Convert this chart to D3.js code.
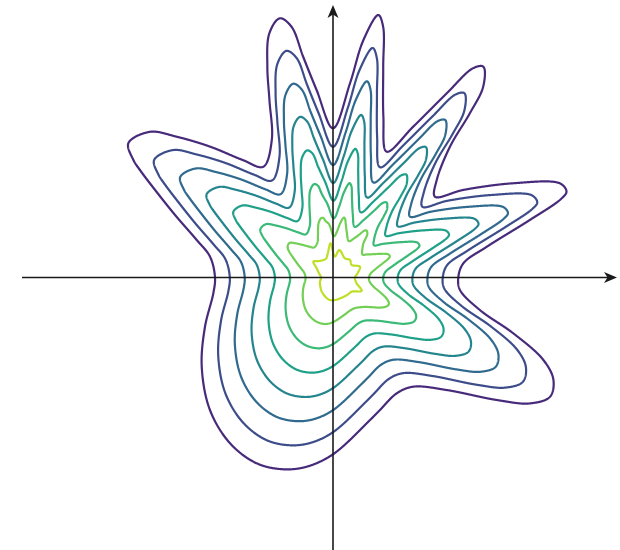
<!DOCTYPE html>
<html>
<head>
<meta charset="utf-8">
<script src="https://cdn.jsdelivr.net/npm/d3@7"></script>
<style>
  html, body { margin: 0; padding: 0; background: #fff; }
  svg { display: block; }
</style>
</head>
<body>
<svg id="chart" width="620" height="550"></svg>
<script>
// ---- data ----
// contour levels: 0 = outermost, 7 = innermost
const levels = [0, 1, 2, 3, 4, 5, 6, 7];

// outermost contour traced in polar form (angle in degrees, radius in axis units)
const outerAngles = [0, 6.2, 11.3, 16.3, 19.0, 20.2, 22.5, 27.6, 33.9, 38.4, 43.2, 48.2, 50.2, 51.8, 54.5, 56.2, 58.3, 62, 66.9, 72.6, 76.6, 78.7, 80.2, 82.7, 85, 90, 95, 97.7, 99.4, 101.6, 104.6, 107.3, 109.7, 114, 122.2, 127.5, 133.2, 138, 141.5, 146.7, 149.5, 150.9, 153.8, 158.4, 164.6, 170.4, 180, 187.5, 201, 214.2, 227.1, 238.2, 247.7, 255.5, 262.1, 270, 284.6, 289.5, 298.8, 306.3, 315.3, 323.2, 327.4, 331.2, 335.1, 338.6, 342.8, 347.5, 354.4];
const outerRadii = [12.53, 13.11, 15.68, 20.52, 24.11, 24.88, 24.58, 20.34, 15.7, 13.01, 14.23, 17.55, 21.38, 24.29, 25.89, 25.19, 21.65, 17.08, 13.68, 16.85, 21.67, 25.58, 26.64, 23.94, 19.49, 14.92, 18.82, 22.28, 25.42, 26.46, 25.24, 22.08, 18.86, 15.05, 13.09, 14.8, 17.95, 21.04, 23.4, 24.48, 23.17, 22.09, 19.83, 16.99, 14.14, 12.47, 11.8, 12.07, 13.71, 15.87, 18.08, 19.52, 20.09, 19.81, 19.1, 17.68, 14.72, 14.06, 13.22, 13.55, 16.0, 20.45, 23.37, 24.76, 24.3, 22.59, 18.87, 15.05, 12.76];

// innermost contour traced in polar form
const innerAngles = [0, 10, 22, 34, 46, 58, 77, 85, 94, 103, 110, 120, 132, 141, 150, 159, 180, 198, 215, 232, 250, 262, 275, 295, 310, 323, 335, 347];
const innerRadii = [2.2, 2.5, 2.9, 2.25, 2.44, 2.26, 2.82, 2.1, 3.43, 2.4, 2.02, 2.0, 2.2, 2.53, 1.9, 1.58, 1.2, 1.37, 1.55, 1.81, 2.1, 2.27, 2.26, 2.2, 2.25, 2.35, 3.16, 2.4];

// axis extents (axis units)
const xDomain = [-31.1, 28.4];
const yDomain = [-27.05, 27.25];

(function () {
  const W = 620, H = 550;
  const svg = d3.select("#chart");
  const x = d3.scaleLinear().domain(xDomain).range([22, 617]);
  const y = d3.scaleLinear().domain(yDomain).range([548, 5]);
  const colorT = d3.scaleLinear().domain([levels[0], levels[levels.length - 1]]).range([0.12, 0.9]);
  const color = v => d3.interpolateViridis(colorT(v));

  // smooth closed curve (centripetal Catmull-Rom) through a polar trace,
  // returned as a radius-by-angle lookup
  function polarProfile(angles, radii) {
    const n = angles.length;
    const P = angles.map((a, i) => {
      const t = a * Math.PI / 180;
      return [radii[i] * Math.cos(t), radii[i] * Math.sin(t)];
    });
    const dense = [];
    for (let i = 0; i < n; i++) {
      const p0 = P[(i - 1 + n) % n], p1 = P[i], p2 = P[(i + 1) % n], p3 = P[(i + 2) % n];
      const d = (a, b) => Math.pow(Math.hypot(b[0] - a[0], b[1] - a[1]), 0.5) || 1e-6;
      const t0 = 0, t1 = t0 + d(p0, p1), t2 = t1 + d(p1, p2), t3 = t2 + d(p2, p3);
      const S = 60;
      for (let s = 0; s < S; s++) {
        const t = t1 + (t2 - t1) * s / S;
        const L = (pa, pb, ta, tb) => [
          (tb - t) / (tb - ta) * pa[0] + (t - ta) / (tb - ta) * pb[0],
          (tb - t) / (tb - ta) * pa[1] + (t - ta) / (tb - ta) * pb[1]];
        const A1 = L(p0, p1, t0, t1), A2 = L(p1, p2, t1, t2), A3 = L(p2, p3, t2, t3);
        const B1 = L(A1, A2, t0, t2), B2 = L(A2, A3, t1, t3);
        const C = L(B1, B2, t1, t2);
        let th = Math.atan2(C[1], C[0]) * 180 / Math.PI;
        if (th < 0) th += 360;
        dense.push([th, Math.hypot(C[0], C[1])]);
      }
    }
    dense.sort((a, b) => a[0] - b[0]);
    const th = dense.map(d => d[0]), rr = dense.map(d => d[1]);
    const m = th.length;
    const N = 7200;
    const lut = new Float64Array(N + 1);
    for (let k = 0; k <= N; k++) {
      const a = (k / N) * 360;
      let j = d3.bisectRight(th, a) - 1;
      let aL, rL, aR, rR;
      if (j < 0) { aL = th[m - 1] - 360; rL = rr[m - 1]; aR = th[0]; rR = rr[0]; }
      else if (j >= m - 1) { aL = th[m - 1]; rL = rr[m - 1]; aR = th[0] + 360; rR = rr[0]; }
      else { aL = th[j]; rL = rr[j]; aR = th[j + 1]; rR = rr[j + 1]; }
      const f = aR > aL ? (a - aL) / (aR - aL) : 0;
      lut[k] = rL + (rR - rL) * f;
    }
    return a => {
      const u = a / 360 * N;
      const k = Math.floor(u), fr = u - k;
      return lut[k] * (1 - fr) + lut[Math.min(k + 1, N)] * fr;
    };
  }

  const outerR = polarProfile(outerAngles, outerRadii);
  const innerR = polarProfile(innerAngles, innerRadii);
  const nL = levels.length;          // 8 rings
  const topLevel = levels[nL - 1];   // 7
  const P = 2;                       // decay of inner irregularity towards the outside

  // ring index i (0 = innermost ... 7 = outermost) at radius r along angle th:
  // r = outer*(i+1)/8 + J*(1 - i/7)^P, with J = inner - outer/8
  function ringIndex(r, ro, ri) {
    const base = ro / nL;
    const J = ri - base;
    if (r >= ro) return r / base - 1;
    if (r <= ri) {
      const s = Math.max(base - J * P / topLevel, 0.05);
      return (r - ri) / s;
    }
    let i = topLevel * (r - ri) / (ro - ri);
    for (let it = 0; it < 6; it++) {
      const u = 1 - i / topLevel;
      const g = base * (i + 1) + J * Math.pow(u, P) - r;
      const dg = base - J * P / topLevel * Math.pow(u, P - 1);
      i -= g / Math.max(dg, 0.05);
      if (i < 0) i = 0; else if (i > topLevel) i = topLevel;
    }
    return i;
  }

  // sample the field on a grid
  const K = 2;
  const gw = W * K, gh = H * K;
  const values = new Float64Array(gw * gh);
  for (let j = 0; j < gh; j++) {
    const dy = y.invert((j + 0.5) / K);
    for (let i = 0; i < gw; i++) {
      const dx = x.invert((i + 0.5) / K);
      const r = Math.hypot(dx, dy);
      let th = Math.atan2(dy, dx) * 180 / Math.PI;
      if (th < 0) th += 360;
      if (th >= 360) th -= 360;
      values[j * gw + i] = topLevel - ringIndex(r, outerR(th), innerR(th));
    }
  }

  const contours = d3.contours().size([gw, gh]).thresholds(levels)(values);
  const path = d3.geoPath(d3.geoTransform({
    point(px, py) { this.stream.point(px / K, py / K); }
  }));

  svg.append("g")
    .selectAll("path")
    .data(contours)
    .join("path")
    .attr("d", path)
    .attr("fill", "none")
    .attr("stroke", d => color(d.value))
    .attr("stroke-width", 2.2)
    .attr("stroke-linejoin", "round");

  // axes with arrowheads
  const x0 = x(0), y0 = y(0);
  const ax = svg.append("g").attr("fill", "#1a1a1a").attr("stroke", "#1a1a1a");
  ax.append("line")
    .attr("x1", x(xDomain[0])).attr("x2", x(xDomain[1]) - 8)
    .attr("y1", y0).attr("y2", y0)
    .attr("stroke-width", 1.6);
  ax.append("line")
    .attr("x1", x0).attr("x2", x0)
    .attr("y1", H).attr("y2", y(yDomain[1]) + 8)
    .attr("stroke-width", 1.6);
  const xt = x(xDomain[1]), yt = y(yDomain[1]);
  ax.append("path")
    .attr("stroke", "none")
    .attr("d", `M${xt},${y0}L${xt - 13},${y0 - 5.5}L${xt - 9.5},${y0}L${xt - 13},${y0 + 5.5}Z`);
  ax.append("path")
    .attr("stroke", "none")
    .attr("d", `M${x0},${yt}L${x0 - 5.5},${yt + 13}L${x0},${yt + 9.5}L${x0 + 5.5},${yt + 13}Z`);
})();
</script>
</body>
</html>
